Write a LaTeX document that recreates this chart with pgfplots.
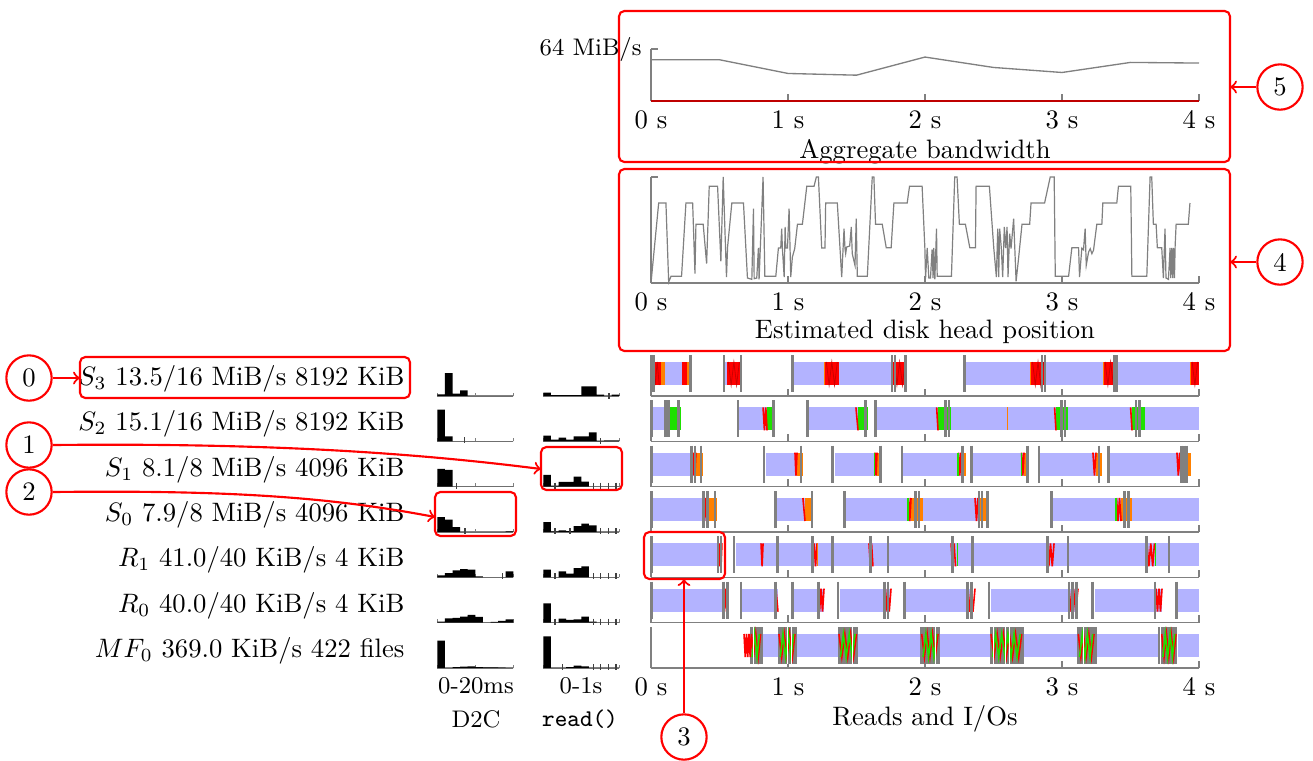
\documentclass[border=0pt]{standalone}
\usepackage{pgfplots}
\pgfplotsset{compat=1.18}
\definecolor{bandblue}{RGB}{179,179,255}
\definecolor{iogreen}{RGB}{30,225,0}
\definecolor{ioorange}{RGB}{255,128,0}
\definecolor{reqgray}{RGB}{128,128,128}
\pgfplotsset{
  rowaxis/.style={scale only axis, width=205.5pt, height=15.375pt,
    xmin=0, xmax=4, ymin=0, ymax=41, clip=false,
    axis x line=bottom, axis y line=left,
    axis line style={-, draw=reqgray, line width=0.5pt},
    xtick={0,1,2,3,4}, xticklabel=\empty, ytick=\empty,
    tick align=inside, major tick length=2.7pt,
    tick style={draw=reqgray, line width=0.5pt},
    anchor=south west, unbounded coords=jump},
  rband/.style={bandblue, line width=8.625pt},
  rblk/.style={line width=8.625pt},
  rgblk/.style={reqgray, line width=13.875pt},
  rreq/.style={only marks, mark=|, mark size=6.94pt, mark options={draw=reqgray, line width=1.1pt}},
  rwhite/.style={only marks, mark=|, mark size=6.94pt, mark options={draw=white, line width=0.4pt}},
  rzig/.style={line width=0.6pt},
  rthin/.style={only marks, mark=|, mark size=4.31pt, mark options={line width=0.6pt}},
  histaxis/.style={scale only axis, width=28.5pt, height=12pt, ymin=0, ymax=32, clip=false,
    axis x line=bottom, axis y line=none,
    axis line style={-, draw=reqgray, line width=0.5pt},
    xticklabel=\empty, ytick=\empty, tick align=inside, major tick length=1.25pt,
    tick style={draw=reqgray, line width=0.5pt}, anchor=south west},
  d2c/.style={histaxis, xmin=0, xmax=20, xtick={0,10,20}},
  rdh/.style={histaxis, xmin=0, xmax=1, xtick={0,1}},
  hbar/.style={const plot, fill=black, draw=none},
  hmark/.style={only marks, mark=|, mark size=1.1pt, mark options={draw=black!75, line width=0.5pt}},
}
\begin{document}
\begin{tikzpicture}
\path[use as bounding box] (0,0) rectangle (492.375pt,-285pt);

% ---------------- Aggregate bandwidth
\begin{axis}[scale only axis, width=205.5pt, height=19.5pt, at={(244.125pt,-37.875pt)}, anchor=south west,
  xmin=0, xmax=4, ymin=0, ymax=64, clip=false,
  axis x line=bottom, axis y line=left,
  axis line style={-, draw=reqgray, line width=0.5pt},
  xtick={0,1,2,3,4}, xticklabels={0 s,1 s,2 s,3 s,4 s},
  ytick={64}, yticklabels={64 MiB/s}, yticklabel style={font=\small},
  tick align=inside, major tick length=2.6pt,
  tick style={draw=reqgray, line width=0.5pt}]
\addplot[reqgray, line width=0.5pt] coordinates {(0,50.8)(0.5,50.8)(1,33.9)(1.5,31.8)(2,54.1)(2.5,41.3)(3,35.1)(3.5,47.5)(4,46.7)};
\addplot[red!75!black, line width=0.5pt] coordinates {(0,0)(4,0)};
\end{axis}

% ---------------- Estimated disk head position
\begin{axis}[scale only axis, width=205.5pt, height=39.75pt, at={(244.125pt,-106.125pt)}, anchor=south west,
  xmin=0, xmax=4, ymin=0, ymax=318, clip=false,
  axis x line=bottom, axis y line=left,
  axis line style={-, draw=reqgray, line width=0.5pt},
  xtick={0,1,2,3,4}, xticklabels={0 s,1 s,2 s,3 s,4 s},
  ytick={318}, yticklabel=\empty,
  tick align=inside, major tick length=2.6pt,
  tick style={draw=reqgray, line width=0.5pt}]
\addplot[reqgray, line width=0.45pt] coordinates {(0,0)(0.056,240)(0.109,240)(0.129,3)(0.146,20)(0.223,20)(0.255,240)(0.304,240)(0.321,28)(0.328,176)(0.381,176)(0.406,58)(0.425,290)(0.486,290)(0.510,65)(0.527,318)(0.551,18)(0.559,108)(0.590,240)(0.675,240)(0.704,15)(0.736,11)(0.748,223)(0.753,13)(0.772,15)(0.784,105)(0.789,11)(0.818,318)(0.831,20)(0.911,20)(0.930,105)(0.947,105)(0.954,163)(0.959,105)(0.972,18)(0.979,168)(0.984,105)(0.996,105)(1.008,223)(1.020,18)(1.032,78)(1.049,103)(1.069,176)(1.105,176)(1.137,290)(1.190,290)(1.207,318)(1.222,318)(1.246,105)(1.270,105)(1.275,240)(1.360,240)(1.392,18)(1.409,163)(1.416,103)(1.421,88)(1.428,108)(1.450,111)(1.462,168)(1.469,88)(1.489,53)(1.498,193)(1.506,20)(1.579,20)(1.615,318)(1.627,318)(1.639,176)(1.688,176)(1.717,106)(1.753,106)(1.773,240)(1.870,240)(1.887,290)(1.979,290)(1.999,105)(2.004,13)(2.016,105)(2.028,15)(2.040,15)(2.052,101)(2.059,15)(2.064,105)(2.072,11)(2.084,163)(2.089,20)(2.193,20)(2.217,318)(2.234,318)(2.251,176)(2.295,176)(2.327,106)(2.368,106)(2.373,290)(2.470,290)(2.502,105)(2.521,18)(2.531,163)(2.538,18)(2.545,163)(2.557,105)(2.567,18)(2.579,168)(2.589,105)(2.599,168)(2.606,18)(2.618,148)(2.628,103)(2.647,193)(2.665,5)(2.684,78)(2.708,176)(2.764,176)(2.774,240)(2.873,240)(2.914,318)(2.943,318)(2.951,20)(3.048,20)(3.072,106)(3.121,106)(3.128,18)(3.145,105)(3.157,100)(3.169,163)(3.177,53)(3.194,93)(3.206,103)(3.218,88)(3.230,98)(3.254,176)(3.291,176)(3.298,240)(3.400,240)(3.412,290)(3.502,290)(3.510,20)(3.619,20)(3.643,318)(3.655,318)(3.667,176)(3.687,176)(3.696,106)(3.728,106)(3.740,15)(3.752,163)(3.759,15)(3.777,11)(3.789,105)(3.794,15)(3.801,105)(3.808,15)(3.813,105)(3.821,15)(3.826,113)(3.833,176)(3.922,176)(3.934,240)};
\end{axis}

% ---------------- Row S3
\begin{axis}[rowaxis, at={(244.125pt,-148.5pt)}]
\addplot[rband] table[row sep=\\]{0 22.5\\0.299 22.5\\nan nan\\0.533 22.5\\0.657 22.5\\nan nan\\1.036 22.5\\1.861 22.5\\nan nan\\2.285 22.5\\4 22.5\\};
\addplot[rreq] coordinates {(0.005,22.5)(0.015,22.5)(0.285,22.5)(0.533,22.5)(0.657,22.5)(1.036,22.5)(1.759,22.5)(1.781,22.5)(1.861,22.5)(2.285,22.5)(2.854,22.5)(2.876,22.5)(3.380,22.5)(3.401,22.5)};
\addplot[rblk, red] table[row sep=\\]{0.015 22.5\\0.07 22.5\\nan nan\\0.226 22.5\\0.265 22.5\\nan nan\\0.555 22.5\\0.657 22.5\\nan nan\\1.269 22.5\\1.372 22.5\\nan nan\\1.766 22.5\\1.861 22.5\\nan nan\\2.772 22.5\\2.876 22.5\\nan nan\\3.305 22.5\\3.401 22.5\\nan nan\\3.940 22.5\\4 22.5\\};
\addplot[rblk, ioorange] table[row sep=\\]{0.07 22.5\\0.102 22.5\\nan nan\\0.265 22.5\\0.295 22.5\\nan nan\\1.263 22.5\\1.269 22.5\\nan nan\\2.766 22.5\\2.772 22.5\\nan nan\\3.299 22.5\\3.305 22.5\\nan nan\\3.934 22.5\\3.940 22.5\\};
\addplot[rzig, red!80!black, line width=0.3pt] table[row sep=\\]{0.015 34\\0.030 11\\0.045 34\\0.060 11\\nan nan\\0.565 34\\0.585 11\\0.605 34\\0.625 11\\0.645 34\\nan nan\\1.280 34\\1.300 11\\1.320 34\\1.340 11\\1.360 34\\nan nan\\1.775 34\\1.795 11\\1.815 34\\1.835 11\\1.855 34\\nan nan\\2.785 34\\2.805 11\\2.825 34\\2.845 11\\2.865 34\\nan nan\\3.315 34\\3.335 11\\3.355 34\\3.375 11\\3.395 34\\nan nan\\3.950 34\\3.970 11\\3.990 34\\};
\end{axis}

% ---------------- Row S2
\begin{axis}[rowaxis, at={(244.125pt,-165.5pt)}]
\addplot[rband] table[row sep=\\]{0 22.5\\0.219 22.5\\nan nan\\0.635 22.5\\0.905 22.5\\nan nan\\1.139 22.5\\1.584 22.5\\nan nan\\1.642 22.5\\4 22.5\\};
\addplot[rreq] coordinates {(0.005,22.5)(0.109,22.5)(0.131,22.5)(0.204,22.5)(0.635,22.5)(0.891,22.5)(1.139,22.5)(1.569,22.5)(1.642,22.5)(2.153,22.5)(2.175,22.5)(2.993,22.5)(3.022,22.5)(3.540,22.5)(3.569,22.5)};
\addplot[rblk, iogreen] table[row sep=\\]{0.131 22.5\\0.219 22.5\\nan nan\\0.847 22.5\\0.905 22.5\\nan nan\\1.511 22.5\\1.584 22.5\\nan nan\\2.095 22.5\\2.190 22.5\\nan nan\\2.956 22.5\\3.044 22.5\\nan nan\\3.511 22.5\\3.606 22.5\\};
\addplot[rzig, red] table[row sep=\\]{0.109 34\\0.116 11\\0.123 34\\0.131 11\\nan nan\\0.818 34\\0.828 11\\0.838 34\\0.847 11\\nan nan\\1.496 34\\1.511 11\\nan nan\\2.085 34\\2.095 11\\nan nan\\2.946 34\\2.956 11\\nan nan\\3.501 34\\3.511 11\\};
\addplot[rthin, mark options={draw=ioorange}] coordinates {(2.599,22.5)};
\end{axis}

% ---------------- Row S1
\begin{axis}[rowaxis, at={(244.125pt,-182.5pt)}]
\addplot[rband] table[row sep=\\]{0 22.5\\0.380 22.5\\nan nan\\0.839 22.5\\1.109 22.5\\nan nan\\1.343 22.5\\1.686 22.5\\nan nan\\1.839 22.5\\2.299 22.5\\nan nan\\2.336 22.5\\2.759 22.5\\nan nan\\2.832 22.5\\3.292 22.5\\nan nan\\3.336 22.5\\3.942 22.5\\};
\addplot[rreq] coordinates {(0.005,22.5)(0.299,22.5)(0.321,22.5)(0.365,22.5)(0.825,22.5)(1.095,22.5)(1.328,22.5)(1.672,22.5)(1.832,22.5)(2.277,22.5)(2.336,22.5)(2.745,22.5)(2.832,22.5)(3.270,22.5)(3.336,22.5)(3.869,22.5)(3.891,22.5)(3.912,22.5)};
\addplot[rblk, ioorange] table[row sep=\\]{0.328 22.5\\0.380 22.5\\nan nan\\1.066 22.5\\1.109 22.5\\nan nan\\1.650 22.5\\1.686 22.5\\nan nan\\2.263 22.5\\2.299 22.5\\nan nan\\2.723 22.5\\2.759 22.5\\nan nan\\3.248 22.5\\3.292 22.5\\nan nan\\3.869 22.5\\3.942 22.5\\};
\addplot[rzig, red] table[row sep=\\]{0.299 34\\0.306 11\\0.313 34\\0.320 11\\0.328 34\\nan nan\\1.051 34\\1.058 11\\1.066 34\\nan nan\\1.635 34\\1.643 11\\1.650 34\\nan nan\\2.245 34\\2.254 11\\2.263 34\\nan nan\\2.705 34\\2.714 11\\2.723 34\\nan nan\\3.226 34\\3.237 11\\3.248 34\\nan nan\\3.839 34\\3.849 11\\3.859 34\\3.869 11\\};
\addplot[rthin, mark options={draw=iogreen}] coordinates {(1.630,22.5)(2.241,22.5)(2.701,22.5)};
\end{axis}

% ---------------- Row S0
\begin{axis}[rowaxis, at={(244.125pt,-199.5pt)}]
\addplot[rband] table[row sep=\\]{0 22.5\\0.482 22.5\\nan nan\\0.912 22.5\\1.182 22.5\\nan nan\\1.409 22.5\\2.467 22.5\\nan nan\\2.920 22.5\\4 22.5\\};
\addplot[rreq] coordinates {(0.005,22.5)(0.380,22.5)(0.409,22.5)(0.467,22.5)(0.912,22.5)(1.175,22.5)(1.409,22.5)(1.934,22.5)(1.956,22.5)(2.394,22.5)(2.416,22.5)(2.453,22.5)(2.920,22.5)(3.453,22.5)(3.482,22.5)};
\addplot[rblk, ioorange] table[row sep=\\]{0.416 22.5\\0.482 22.5\\nan nan\\1.124 22.5\\1.182 22.5\\nan nan\\1.898 22.5\\1.985 22.5\\nan nan\\2.387 22.5\\2.467 22.5\\nan nan\\3.431 22.5\\3.511 22.5\\};
\addplot[rzig, red] table[row sep=\\]{0.380 34\\0.389 11\\0.398 34\\0.407 11\\0.416 34\\nan nan\\1.109 34\\1.124 11\\nan nan\\1.880 34\\1.889 11\\1.898 34\\nan nan\\2.365 34\\2.376 11\\2.387 34\\nan nan\\3.398 34\\3.409 11\\3.420 34\\3.431 11\\};
\addplot[rthin, mark options={draw=iogreen}] coordinates {(1.876,22.5)(3.394,22.5)};
\end{axis}

% ---------------- Row R1
\begin{axis}[rowaxis, at={(244.125pt,-216.5pt)}]
\addplot[rband] table[row sep=\\]{0 22.5\\0.504 22.5\\nan nan\\0.620 22.5\\4 22.5\\};
\addplot[rreq] coordinates {(0.005,22.5)(0.489,22.5)(0.511,22.5)(0.606,22.5)(0.920,22.5)(1.182,22.5)(1.328,22.5)(1.599,22.5)(1.730,22.5)(2.204,22.5)(2.350,22.5)(2.891,22.5)(3.044,22.5)(3.620,22.5)(3.781,22.5)};
\addplot[rzig, red] table[row sep=\\]{0.489 34\\0.497 11\\0.504 34\\0.511 11\\0.518 34\\nan nan\\0.803 34\\0.811 11\\0.818 34\\nan nan\\1.190 34\\1.201 11\\1.212 34\\nan nan\\1.591 34\\1.601 11\\1.610 34\\1.620 11\\nan nan\\2.190 34\\2.201 11\\2.212 34\\2.223 11\\nan nan\\2.891 34\\2.904 11\\2.916 34\\2.929 11\\2.942 34\\nan nan\\3.620 34\\3.634 11\\3.648 34\\3.662 11\\3.675 34\\};
\addplot[rthin, mark options={draw=ioorange}] coordinates {(1.214,22.5)};
\addplot[rthin, mark options={draw=iogreen}] coordinates {(2.234,22.5)(3.681,22.5)};
\end{axis}

% ---------------- Row R0
\begin{axis}[rowaxis, at={(244.125pt,-233.5pt)}]
\addplot[rband] table[row sep=\\]{0 22.5\\0.533 22.5\\nan nan\\0.664 22.5\\0.927 22.5\\nan nan\\1.044 22.5\\1.263 22.5\\nan nan\\1.380 22.5\\1.745 22.5\\nan nan\\1.854 22.5\\2.343 22.5\\nan nan\\2.482 22.5\\3.117 22.5\\nan nan\\3.241 22.5\\3.730 22.5\\nan nan\\3.847 22.5\\4 22.5\\};
\addplot[rreq] coordinates {(0.003,22.5)(0.526,22.5)(0.555,22.5)(0.657,22.5)(0.912,22.5)(1.036,22.5)(1.226,22.5)(1.365,22.5)(1.701,22.5)(1.730,22.5)(1.847,22.5)(2.307,22.5)(2.336,22.5)(2.467,22.5)(3.051,22.5)(3.080,22.5)(3.109,22.5)(3.226,22.5)(3.679,22.5)(3.839,22.5)};
\addplot[rzig, red] table[row sep=\\]{0.526 34\\0.535 11\\0.544 34\\0.553 11\\0.562 34\\nan nan\\0.912 34\\0.927 11\\nan nan\\1.219 34\\1.230 11\\1.241 34\\1.252 11\\1.263 34\\nan nan\\1.701 34\\1.714 11\\1.727 34\\1.739 11\\1.752 34\\nan nan\\2.307 34\\2.321 11\\2.336 34\\2.350 11\\2.365 34\\nan nan\\3.051 34\\3.067 11\\3.084 34\\3.100 11\\3.117 34\\nan nan\\3.686 34\\3.697 11\\3.708 34\\3.719 11\\3.730 34\\};
\end{axis}

% ---------------- Row MF0
\begin{axis}[rowaxis, at={(244.125pt,-250.5pt)}, xticklabels={0 s,1 s,2 s,3 s,4 s}]
\addplot[rband] table[row sep=\\]{0.820 22.5\\4 22.5\\};
\addplot[rgblk] table[row sep=\\]{0.723 22.5\\0.820 22.5\\nan nan\\0.929 22.5\\1.063 22.5\\nan nan\\1.367 22.5\\1.513 22.5\\nan nan\\1.964 22.5\\2.112 22.5\\nan nan\\2.474 22.5\\2.725 22.5\\nan nan\\3.107 22.5\\3.253 22.5\\nan nan\\3.703 22.5\\3.849 22.5\\};
\addplot[rwhite] coordinates {(0.745,22.5)(0.999,22.5)(1.027,22.5)(1.470,22.5)(2.080,22.5)(2.500,22.5)(2.590,22.5)(2.620,22.5)(3.160,22.5)(3.720,22.5)(3.840,22.5)};
\addplot[rzig, red] table[row sep=\\]{0.679 34\\0.688 11\\0.697 34\\0.706 11\\0.715 34\\0.724 11\\0.733 34\\0.748 11\\0.765 34\\0.783 11\\0.800 34\\nan nan\\0.934 34\\0.954 11\\0.973 34\\0.993 11\\1.012 34\\1.032 11\\1.051 34\\nan nan\\1.372 34\\1.393 11\\1.415 34\\1.436 11\\1.457 34\\1.479 11\\1.500 34\\nan nan\\1.976 34\\1.996 11\\2.016 34\\2.036 11\\2.055 34\\2.075 11\\2.095 34\\nan nan\\2.482 34\\2.504 11\\2.527 34\\2.549 11\\2.572 34\\2.594 11\\2.616 34\\2.639 11\\2.661 34\\2.684 11\\2.706 34\\nan nan\\3.119 34\\3.138 11\\3.157 34\\3.176 11\\3.196 34\\3.215 11\\3.234 34\\nan nan\\3.728 34\\3.745 11\\3.763 34\\3.780 11\\3.797 34\\3.815 11\\3.832 34\\};
\addplot[rzig, iogreen] table[row sep=\\]{0.739 11\\0.756 34\\0.774 11\\0.791 34\\nan nan\\0.944 11\\0.963 34\\0.983 11\\1.002 34\\1.022 11\\1.041 34\\nan nan\\1.383 11\\1.404 34\\1.425 11\\1.447 34\\1.468 11\\1.489 34\\nan nan\\1.986 11\\2.006 34\\2.026 11\\2.045 34\\2.065 11\\2.085 34\\nan nan\\2.493 11\\2.516 34\\2.538 11\\2.560 34\\2.583 11\\2.605 34\\2.628 11\\2.650 34\\2.672 11\\2.695 34\\nan nan\\3.128 11\\3.148 34\\3.167 11\\3.186 34\\3.205 11\\3.224 34\\nan nan\\3.737 11\\3.754 34\\3.771 11\\3.789 34\\3.806 11\\3.823 34\\};
\end{axis}

% ---------------- D2C histograms (0-20 ms, 2 ms bins)
\begin{axis}[d2c, at={(164pt,-148.5pt)}]
\addplot[hbar] coordinates {(0,1.7)(2,23)(4,2.3)(6,5.7)(8,0)(10,0)(12,0)(14,0)(16,0)(18,0)(20,0)} \closedcycle;
\end{axis}
\begin{axis}[d2c, at={(164pt,-165.5pt)}]
\addplot[hbar] coordinates {(0,31.7)(2,5)(4,0)(6,0)(8,0)(10,0)(12,0)(14,0)(16,0)(18,0)(20,0)} \closedcycle;
\addplot[hmark] coordinates {(7.1,1)};
\end{axis}
\begin{axis}[d2c, at={(164pt,-182.5pt)}]
\addplot[hbar] coordinates {(0,17.7)(2,16.7)(4,0)(6,0)(8,0)(10,0)(12,0)(14,0)(16,0)(18,0)(20,0)} \closedcycle;
\addplot[hmark] coordinates {(5.1,1)};
\end{axis}
\begin{axis}[d2c, at={(164pt,-199.5pt)}]
\addplot[hbar] coordinates {(0,15)(2,12.3)(4,5)(6,0)(8,0)(10,0)(12,0)(14,0)(16,0)(18,0.7)(20,0.7)} \closedcycle;
\addplot[hmark] coordinates {(7.3,1)};
\end{axis}
\begin{axis}[d2c, at={(164pt,-216.5pt)}]
\addplot[hbar] coordinates {(0,2)(2,4.3)(4,7)(6,8.3)(8,7.7)(10,1)(12,0)(14,0)(16,0)(18,6)(20,6)} \closedcycle;
\addplot[hmark] coordinates {(17.2,1)};
\end{axis}
\begin{axis}[d2c, at={(164pt,-233.5pt)}]
\addplot[hbar] coordinates {(0,1)(2,4.3)(4,4.7)(6,6)(8,7.7)(10,5.7)(12,0)(14,0.7)(16,1.7)(18,3.3)(20,3.3)} \closedcycle;
\end{axis}
\begin{axis}[d2c, at={(164pt,-250.5pt)}]
\addplot[hbar] coordinates {(0,27.3)(2,0)(4,1)(6,1.3)(8,1.7)(10,1)(12,0.7)(14,0.7)(16,0.3)(18,0)(20,0)} \closedcycle;
\end{axis}

% ---------------- read() histograms (0-1 s, 0.1 s bins)
\begin{axis}[rdh, at={(203.75pt,-148.5pt)}]
\addplot[hbar] coordinates {(0,3.3)(0.1,1)(0.2,1)(0.3,1)(0.4,1)(0.5,9.7)(0.6,9.7)(0.7,1.3)(0.8,0)(0.9,1.3)(1,1.3)} \closedcycle;
\addplot[hmark] coordinates {(0.864,0)};
\end{axis}
\begin{axis}[rdh, at={(203.75pt,-165.5pt)}]
\addplot[hbar] coordinates {(0,5.7)(0.1,1.7)(0.2,3.7)(0.3,1.7)(0.4,5)(0.5,5)(0.6,9)(0.7,0.7)(0.8,1)(0.9,1)(1,1)} \closedcycle;
\addplot[hmark] coordinates {(0.754,0)};
\end{axis}
\begin{axis}[rdh, at={(203.75pt,-182.5pt)}]
\addplot[hbar] coordinates {(0,11.7)(0.1,1)(0.2,4.7)(0.3,4.7)(0.4,10)(0.5,5)(0.6,0)(0.7,0)(0.8,0)(0.9,0)(1,0)} \closedcycle;
\addplot[hmark] coordinates {(0.154,1)(0.658,1)(0.754,1)(0.855,1)(0.956,1)};
\end{axis}
\begin{axis}[rdh, at={(203.75pt,-199.5pt)}]
\addplot[hbar] coordinates {(0,10)(0.1,0.7)(0.2,1.7)(0.3,1)(0.4,6)(0.5,8.3)(0.6,6.7)(0.7,0)(0.8,0)(0.9,0)(1,0)} \closedcycle;
\addplot[hmark] coordinates {(0.154,1)(0.351,1)(0.754,1)(0.855,1)(0.956,1)};
\end{axis}
\begin{axis}[rdh, at={(203.75pt,-216.5pt)}]
\addplot[hbar] coordinates {(0,7.7)(0.1,0)(0.2,6)(0.3,3.7)(0.4,9.3)(0.5,11)(0.6,0)(0.7,0)(0.8,0)(0.9,0)(1,0)} \closedcycle;
\addplot[hmark] coordinates {(0.154,1)(0.658,1)(0.754,1)(0.855,1)(0.956,1)};
\end{axis}
\begin{axis}[rdh, at={(203.75pt,-233.5pt)}]
\addplot[hbar] coordinates {(0,19.3)(0.1,0)(0.2,4)(0.3,2.7)(0.4,3.3)(0.5,6)(0.6,1)(0.7,0)(0.8,0)(0.9,0)(1,0)} \closedcycle;
\addplot[hmark] coordinates {(0.154,1)(0.658,1)(0.754,1)(0.855,1)(0.956,1)};
\end{axis}
\begin{axis}[rdh, at={(203.75pt,-250.5pt)}]
\addplot[hbar] coordinates {(0,31.7)(0.1,0)(0.2,0)(0.3,1)(0.4,2.3)(0.5,1.7)(0.6,0)(0.7,0)(0.8,0)(0.9,0)(1,0)} \closedcycle;
\addplot[hmark] coordinates {(0.254,1)(0.658,1)(0.754,1)(0.855,1)(0.956,1)};
\end{axis}

% ---------------- text, boxes, callouts (pixel coordinates)
\begin{scope}[x=0.375pt,y=-0.375pt]
\node[anchor=east,inner sep=0pt] at (405,379) {$S_3$ 13.5/16 MiB/s 8192 KiB};
\node[anchor=east,inner sep=0pt] at (405,424.3) {$S_2$ 15.1/16 MiB/s 8192 KiB};
\node[anchor=east,inner sep=0pt] at (405,469.7) {$S_1$ 8.1/8 MiB/s 4096 KiB};
\node[anchor=east,inner sep=0pt] at (405,515) {$S_0$ 7.9/8 MiB/s 4096 KiB};
\node[anchor=east,inner sep=0pt] at (405,560.3) {$R_1$ 41.0/40 KiB/s 4 KiB};
\node[anchor=east,inner sep=0pt] at (405,605.7) {$R_0$ 40.0/40 KiB/s 4 KiB};
\node[anchor=east,inner sep=0pt] at (405,651) {$MF_0$ 369.0 KiB/s 422 files};
\node at (476,686) {\small 0-20ms};
\node at (581,686) {\small 0-1s};
\node at (476,719) {\small D2C};
\node at (580,719) {\small\texttt{read()}};
\node at (925,719) {Reads and I/Os};
\node at (925,152) {Aggregate bandwidth};
\node at (925,332) {Estimated disk head position};
\draw[red,thick,rounded corners=2pt] (619,11) rectangle (1230,162);
\draw[red,thick,rounded corners=2pt] (619,169) rectangle (1230,351);
\draw[red,thick,rounded corners=2pt] (80,357) rectangle (410,398);
\draw[red,thick,rounded corners=2pt] (541,447) rectangle (622,490);
\draw[red,thick,rounded corners=2pt] (435,492) rectangle (516,536);
\draw[red,thick,rounded corners=2pt] (644,532) rectangle (725,579);
\node[circle,draw=red,thick,minimum size=17pt,inner sep=0pt] (c0) at (29,378) {0};
\node[circle,draw=red,thick,minimum size=17pt,inner sep=0pt] (c1) at (29,445) {1};
\node[circle,draw=red,thick,minimum size=17pt,inner sep=0pt] (c2) at (29,492) {2};
\node[circle,draw=red,thick,minimum size=17pt,inner sep=0pt] (c3) at (684,737) {3};
\node[circle,draw=red,thick,minimum size=17pt,inner sep=0pt] (c4) at (1280,262) {4};
\node[circle,draw=red,thick,minimum size=17pt,inner sep=0pt] (c5) at (1280,87) {5};
\draw[red,thick,->] (c0.east) -- (80,378);
\draw[red,thick,->] (c1.east) .. controls (250,443) and (400,451) .. (541,469);
\draw[red,thick,->] (c2.east) .. controls (230,490) and (330,497) .. (435,517);
\draw[red,thick,->] (c3.north) -- (684,579);
\draw[red,thick,->] (c4.west) -- (1230,262);
\draw[red,thick,->] (c5.west) -- (1230,87);
\end{scope}
\end{tikzpicture}
\end{document}
